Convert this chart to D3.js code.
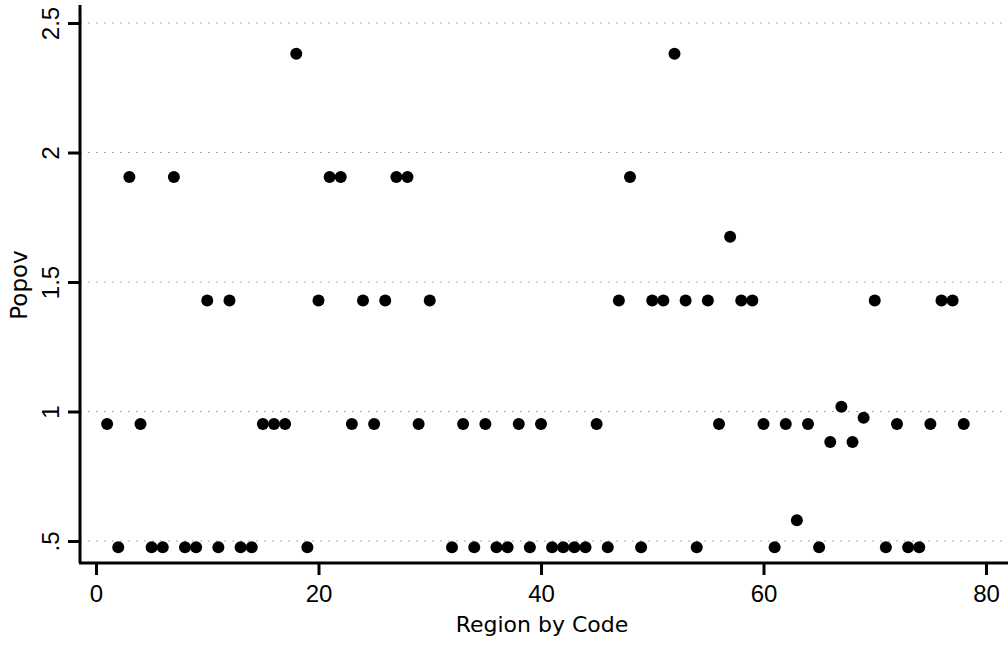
<!DOCTYPE html>
<html>
<head>
<meta charset="utf-8">
<script src="https://cdn.jsdelivr.net/npm/d3@7"></script>
<style>
  body { margin: 0; background: #fff; }
  svg { display: block; font-family: "DejaVu Sans", sans-serif; }
</style>
</head>
<body>
<svg id="chart" width="1008" height="645"></svg>
<script>
// Popov by region code (scanned Stata scatter)
const regionCodes = [
  1, 2, 3, 4, 5, 6, 7, 8, 9, 10,
  11, 12, 13, 14, 15, 16, 17, 18, 19, 20,
  21, 22, 23, 24, 25, 26, 27, 28, 29, 30,
  32, 33, 34, 35, 36, 37, 38, 39, 40,
  41, 42, 43, 44, 45, 46, 47, 48, 49, 50,
  51, 52, 53, 54, 55, 56, 57, 58, 59, 60,
  61, 62, 63, 64, 65, 66, 67, 68, 69, 70,
  71, 72, 73, 74, 75, 76, 77, 78
];
const popov = [
  0.952, 0.476, 1.905, 0.952, 0.476, 0.476, 1.905, 0.476, 0.476, 1.429,
  0.476, 1.429, 0.476, 0.476, 0.952, 0.952, 0.952, 2.381, 0.476, 1.429,
  1.905, 1.905, 0.952, 1.429, 0.952, 1.429, 1.905, 1.905, 0.952, 1.429,
  0.476, 0.952, 0.476, 0.952, 0.476, 0.476, 0.952, 0.476, 0.952,
  0.476, 0.476, 0.476, 0.476, 0.952, 0.476, 1.429, 1.905, 0.476, 1.429,
  1.429, 2.381, 1.429, 0.476, 1.429, 0.952, 1.675, 1.429, 1.429, 0.952,
  0.476, 0.952, 0.58, 0.952, 0.476, 0.882, 1.018, 0.882, 0.976, 1.429,
  0.476, 0.952, 0.476, 0.476, 0.952, 1.429, 1.429, 0.952
];
const xTicks = [0, 20, 40, 60, 80];
const yTicks = [0.5, 1, 1.5, 2, 2.5];
const yTickLabels = [".5", "1", "1.5", "2", "2.5"];

const data = regionCodes.map((c, i) => ({code: c, popov: popov[i]}));

const svg = d3.select("#chart");
const W = 1008, H = 645;
const left = 80, bottom = 563;

const x = d3.scaleLinear().domain([0, 80]).range([96, 986]);
const y = d3.scaleLinear().domain([0.5, 2.5]).range([541, 23]);

// grid lines
svg.append("g").selectAll("line")
  .data(yTicks)
  .join("line")
  .attr("x1", left).attr("x2", W)
  .attr("y1", d => y(d)).attr("y2", d => y(d))
  .attr("stroke", "#aaa")
  .attr("stroke-width", 1)
  .attr("stroke-dasharray", "2,6");

// y axis
const yAxis = d3.axisLeft(y)
  .tickValues(yTicks)
  .tickSize(12)
  .tickPadding(8)
  .tickFormat((d, i) => yTickLabels[i]);
const gy = svg.append("g").attr("transform", `translate(${left},0)`).call(yAxis);
gy.select(".domain").attr("d", `M0,5V${bottom}`).attr("stroke", "#000").attr("stroke-width", 3);
gy.selectAll(".tick line").attr("stroke", "#000").attr("stroke-width", 3);
gy.selectAll(".tick text")
  .attr("font-size", 24)
  .attr("fill", "#000")
  .attr("text-anchor", "middle")
  .attr("x", null).attr("dy", null)
  .attr("transform", "translate(-21,0) rotate(-90)");

// x axis
const xAxis = d3.axisBottom(x)
  .tickValues(xTicks)
  .tickSize(12)
  .tickPadding(10)
  .tickFormat(d3.format("d"));
const gx = svg.append("g").attr("transform", `translate(0,${bottom})`).call(xAxis);
gx.select(".domain").attr("d", `M${left - 1},0H${W}`).attr("stroke", "#000").attr("stroke-width", 3);
gx.selectAll(".tick line").attr("stroke", "#000").attr("stroke-width", 3);
gx.selectAll(".tick text").attr("font-size", 24).attr("fill", "#000");

// axis titles
svg.append("text")
  .attr("x", 542).attr("y", 632)
  .attr("text-anchor", "middle")
  .attr("font-size", 22)
  .text("Region by Code");

svg.append("text")
  .attr("transform", "translate(27,285) rotate(-90)")
  .attr("text-anchor", "middle")
  .attr("font-size", 23)
  .text("Popov");

// points
svg.append("g").selectAll("circle")
  .data(data)
  .join("circle")
  .attr("cx", d => x(d.code))
  .attr("cy", d => y(d.popov))
  .attr("r", 6)
  .attr("fill", "#000");
</script>
</body>
</html>
